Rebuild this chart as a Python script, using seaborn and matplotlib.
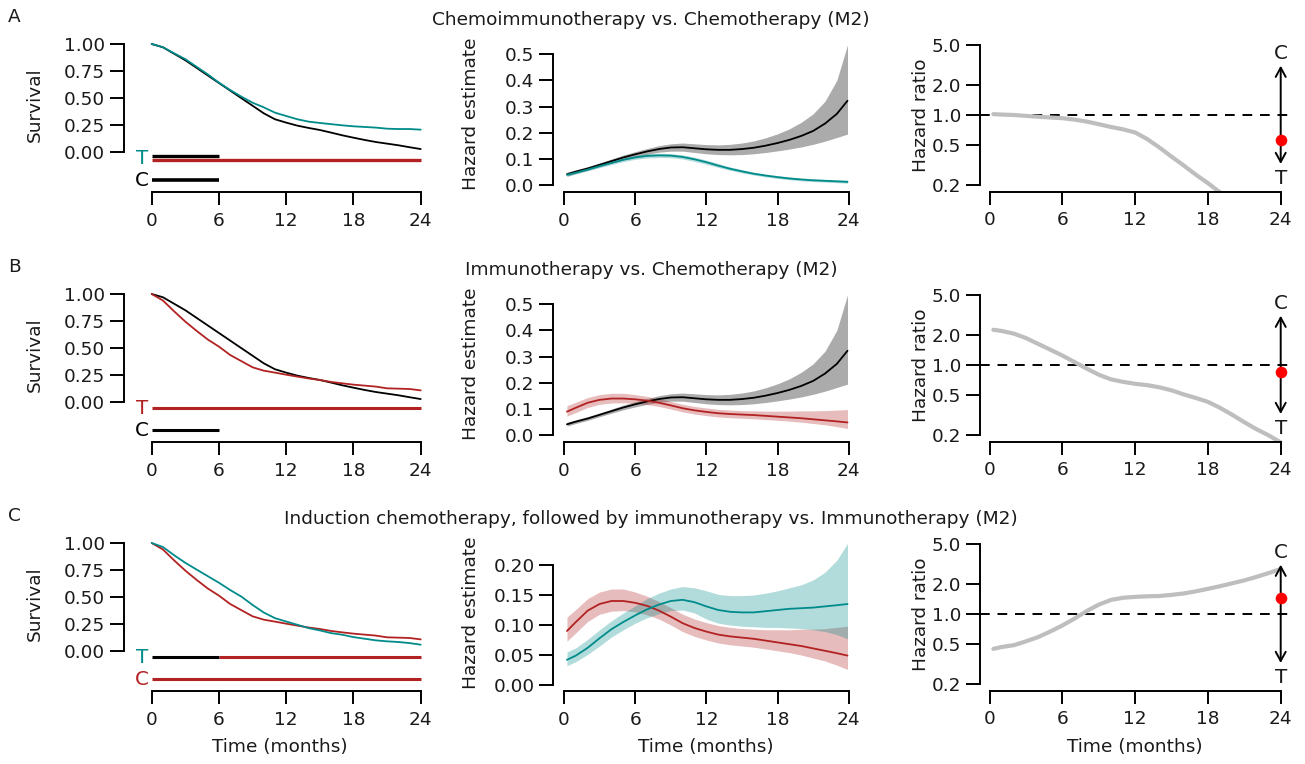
import numpy as np
import pandas as pd
import matplotlib
matplotlib.use("Agg")
import matplotlib.pyplot as plt
import seaborn as sns

# ---------------- data ----------------
months = [0, 1, 2, 3, 4, 5, 6, 7, 8, 9, 10, 11, 12, 13, 14, 15, 16, 17, 18, 19, 20, 21, 22, 23, 24]

# Kaplan-Meier survival
surv_chemo = [1.0, 0.97, 0.91, 0.85, 0.78, 0.71, 0.64, 0.57, 0.50, 0.43, 0.36, 0.305, 0.274, 0.246,
              0.225, 0.206, 0.182, 0.157, 0.135, 0.114, 0.095, 0.08, 0.065, 0.047, 0.03]
surv_chemoimmuno = [1.0, 0.97, 0.914, 0.86, 0.79, 0.72, 0.643, 0.575, 0.514, 0.458, 0.415, 0.366, 0.335,
                    0.305, 0.283, 0.271, 0.26, 0.249, 0.24, 0.234, 0.228, 0.218, 0.215, 0.215, 0.209]
surv_immuno = [1.0, 0.94, 0.84, 0.745, 0.66, 0.58, 0.514, 0.437, 0.38, 0.323, 0.292, 0.274, 0.255,
               0.237, 0.22, 0.206, 0.188, 0.175, 0.163, 0.154, 0.145, 0.129, 0.126, 0.123, 0.11]
surv_induction = [1.0, 0.963, 0.887, 0.817, 0.755, 0.694, 0.633, 0.566, 0.505, 0.428, 0.358, 0.306, 0.275,
                  0.245, 0.214, 0.193, 0.168, 0.153, 0.131, 0.116, 0.101, 0.092, 0.086, 0.076, 0.061]

# Hazard estimates
t_hz = [0.25, 1, 2, 3, 4, 5, 6, 7, 8, 9, 10, 11, 12, 13, 14, 15, 16, 17, 18, 19, 20, 21, 22, 23, 23.9]
hz_chemo = [0.042, 0.052, 0.064, 0.078, 0.092, 0.106, 0.118, 0.129, 0.138, 0.144, 0.145, 0.141, 0.137,
            0.135, 0.135, 0.138, 0.143, 0.151, 0.161, 0.173, 0.188, 0.207, 0.235, 0.272, 0.322]
hz_chemo_lo = [0.035, 0.045, 0.057, 0.071, 0.084, 0.097, 0.108, 0.118, 0.126, 0.130, 0.130, 0.125, 0.120,
               0.117, 0.116, 0.117, 0.120, 0.125, 0.131, 0.138, 0.146, 0.156, 0.168, 0.182, 0.195]
hz_chemo_hi = [0.050, 0.059, 0.071, 0.085, 0.100, 0.115, 0.128, 0.140, 0.151, 0.158, 0.161, 0.158, 0.155,
               0.154, 0.156, 0.161, 0.169, 0.181, 0.196, 0.215, 0.240, 0.272, 0.320, 0.400, 0.535]
hz_chemoimmuno = [0.040, 0.048, 0.060, 0.073, 0.085, 0.097, 0.106, 0.112, 0.114, 0.113, 0.108, 0.099, 0.088,
                  0.075, 0.063, 0.053, 0.044, 0.037, 0.031, 0.026, 0.022, 0.019, 0.017, 0.015, 0.013]
hz_chemoimmuno_lo = [0.034, 0.043, 0.055, 0.067, 0.079, 0.090, 0.099, 0.104, 0.106, 0.105, 0.100, 0.091, 0.080,
                     0.068, 0.057, 0.047, 0.039, 0.032, 0.026, 0.021, 0.017, 0.014, 0.012, 0.010, 0.008]
hz_chemoimmuno_hi = [0.046, 0.054, 0.066, 0.079, 0.091, 0.104, 0.113, 0.120, 0.122, 0.121, 0.116, 0.107, 0.096,
                     0.083, 0.070, 0.060, 0.050, 0.043, 0.037, 0.032, 0.028, 0.025, 0.023, 0.021, 0.020]
hz_immuno = [0.090, 0.105, 0.124, 0.135, 0.140, 0.140, 0.137, 0.132, 0.124, 0.114, 0.103, 0.095, 0.089,
             0.084, 0.081, 0.079, 0.077, 0.074, 0.071, 0.068, 0.065, 0.061, 0.057, 0.053, 0.049]
hz_immuno_lo = [0.073, 0.087, 0.106, 0.118, 0.123, 0.124, 0.122, 0.117, 0.110, 0.100, 0.089, 0.081, 0.075,
                0.070, 0.067, 0.065, 0.063, 0.060, 0.057, 0.054, 0.050, 0.045, 0.040, 0.033, 0.026]
hz_immuno_hi = [0.113, 0.126, 0.144, 0.155, 0.160, 0.160, 0.155, 0.148, 0.139, 0.129, 0.118, 0.110, 0.104,
                0.099, 0.096, 0.094, 0.093, 0.092, 0.092, 0.092, 0.093, 0.093, 0.094, 0.096, 0.098]
hz_induction = [0.042, 0.049, 0.062, 0.078, 0.093, 0.105, 0.116, 0.126, 0.134, 0.140, 0.142, 0.138, 0.131,
                0.125, 0.122, 0.121, 0.121, 0.123, 0.125, 0.127, 0.128, 0.129, 0.131, 0.133, 0.135]
hz_induction_lo = [0.032, 0.039, 0.051, 0.065, 0.080, 0.092, 0.103, 0.112, 0.119, 0.124, 0.125, 0.120, 0.110,
                   0.103, 0.100, 0.098, 0.097, 0.096, 0.096, 0.095, 0.094, 0.092, 0.089, 0.084, 0.077]
hz_induction_hi = [0.055, 0.062, 0.076, 0.092, 0.107, 0.120, 0.132, 0.144, 0.153, 0.160, 0.164, 0.162, 0.157,
                   0.151, 0.149, 0.149, 0.150, 0.153, 0.157, 0.162, 0.167, 0.175, 0.188, 0.208, 0.236]

# Hazard ratios
t_hr = [0.3, 1, 2, 3, 4, 5, 6, 7, 8, 9, 10, 11, 12, 13, 14, 15, 16, 17, 18, 19, 20, 21, 22, 23, 24]
hr_A = [1.02, 1.01, 1.0, 0.98, 0.96, 0.945, 0.93, 0.90, 0.86, 0.81, 0.76, 0.72, 0.67, 0.575, 0.475,
        0.385, 0.315, 0.255, 0.21, 0.17, 0.14, 0.115, 0.095, 0.08, 0.065]
hr_B = [2.24, 2.18, 2.05, 1.85, 1.62, 1.42, 1.24, 1.07, 0.92, 0.80, 0.72, 0.68, 0.65, 0.63, 0.60, 0.56,
        0.51, 0.47, 0.43, 0.375, 0.32, 0.27, 0.23, 0.20, 0.17]
hr_C = [0.45, 0.47, 0.49, 0.535, 0.59, 0.67, 0.77, 0.90, 1.07, 1.24, 1.38, 1.45, 1.48, 1.50, 1.51, 1.55,
        1.60, 1.68, 1.78, 1.89, 2.02, 2.16, 2.34, 2.55, 2.8]
hr_point = [0.565, 0.845, 1.43]
hr_arrow = [0.326, 3.09]

titles = ["Chemoimmunotherapy vs. Chemotherapy (M2)",
          "Immunotherapy vs. Chemotherapy (M2)",
          "Induction chemotherapy, followed by immunotherapy vs. Immunotherapy (M2)"]
letters = ["A", "B", "C"]
x_ticks = [0, 6, 12, 18, 24]
surv_ticks = [0.0, 0.25, 0.5, 0.75, 1.0]
hz_ticks_ab = [0.0, 0.1, 0.2, 0.3, 0.4, 0.5]
hz_ticks_c = [0.0, 0.05, 0.10, 0.15, 0.20]
hr_ticks = [0.2, 0.5, 1.0, 2.0, 5.0]

# ---------------- style ----------------
TEAL = "#008B8B"
RED = "#B22222"
BLACK = "#000000"
GRAY = "#BEBEBE"
TXT = "#1a1a1a"
FS = 13.3

W, H = 1305, 764
sns.set_theme(style="ticks")
plt.rcParams['font.family'] = ['DejaVu Sans']
plt.rcParams.update({
    "axes.linewidth": 1.4,
    "xtick.major.width": 1.4, "ytick.major.width": 1.4,
    "xtick.major.size": 9.5, "ytick.major.size": 10,
    "xtick.major.pad": 4.5, "ytick.major.pad": 3.5,
    "xtick.labelsize": FS, "ytick.labelsize": FS,
    "xtick.color": BLACK, "ytick.color": BLACK,
    "xtick.labelcolor": TXT, "ytick.labelcolor": TXT,
    "axes.edgecolor": BLACK,
})

fig = plt.figure(figsize=(W / 100, H / 100), dpi=100)
fig.patch.set_facecolor("white")


def vmap(v0, p0, v1, p1, q):
    return v0 + (q - p0) * (v1 - v0) / (p1 - p0)


def make_ax(left, right, top, bottom):
    return fig.add_axes([left / W, 1 - bottom / H, (right - left) / W, (bottom - top) / H])


def style(ax, xb, yb, yticks, ylabels):
    sns.despine(ax=ax)
    ax.spines['left'].set_bounds(*yb)
    ax.spines['bottom'].set_bounds(*xb)
    ax.set_xticks(x_ticks)
    ax.set_xticklabels([str(t) for t in x_ticks])
    ax.set_yticks(yticks)
    ax.set_yticklabels(ylabels)
    ax.minorticks_off()
    ax.set_xlabel("")
    ax.set_ylabel("")
    ax.patch.set_alpha(0)


def ylab(text, xpx, ypx):
    fig.text(xpx / W, 1 - ypx / H, text, rotation=90, ha='center', va='center', fontsize=FS, color=TXT)


surv_T = [surv_chemoimmuno, surv_immuno, surv_induction]
surv_Tc = [TEAL, RED, TEAL]
surv_C = [surv_chemo, surv_chemo, surv_immuno]
surv_Cc = [BLACK, BLACK, RED]

hz_T = [(hz_chemoimmuno, hz_chemoimmuno_lo, hz_chemoimmuno_hi), (hz_immuno, hz_immuno_lo, hz_immuno_hi),
        (hz_induction, hz_induction_lo, hz_induction_hi)]
hz_C = [(hz_chemo, hz_chemo_lo, hz_chemo_hi), (hz_chemo, hz_chemo_lo, hz_chemo_hi),
        (hz_immuno, hz_immuno_lo, hz_immuno_hi)]
hrs = [hr_A, hr_B, hr_C]

offsets = [0, 250, 499]

for r in range(3):
    off = offsets[r]
    # titles & letters
    fig.text(651 / W, 1 - (20 + off) / H, titles[r], ha='center', va='center', fontsize=FS, color=TXT)
    fig.text(14 / W, 1 - (17 + off) / H, letters[r], ha='center', va='center', fontsize=FS, color=TXT)

    # ---------- survival ----------
    L, R, T, B = 124, 431, 40 + off, 192.3 + off
    ax = make_ax(L, R, T, B)
    ax.set_xlim(vmap(0, 151.7, 24, 420.7, L), vmap(0, 151.7, 24, 420.7, R))
    ax.set_ylim(vmap(0, 152.3 + off, 1, 44 + off, B), vmap(0, 152.3 + off, 1, 44 + off, T))
    sns.lineplot(x=months, y=surv_C[r], ax=ax, color=surv_Cc[r], lw=1.3, estimator=None, sort=False)
    sns.lineplot(x=months, y=surv_T[r], ax=ax, color=surv_Tc[r], lw=1.3, estimator=None, sort=False)
    # treatment schedule bars
    if r == 0:
        ax.plot([0, 6], [-0.035, -0.035], color=BLACK, lw=2.4, solid_capstyle='butt')
        ax.plot([0, 24], [-0.072, -0.072], color=RED, lw=2.4, solid_capstyle='butt')
        ax.plot([0, 6], [-0.256, -0.256], color=BLACK, lw=2.6, solid_capstyle='butt')
    elif r == 1:
        ax.plot([0, 24], [-0.052, -0.052], color=RED, lw=2.2, solid_capstyle='butt')
        ax.plot([0, 6], [-0.256, -0.256], color=BLACK, lw=2.2, solid_capstyle='butt')
    else:
        ax.plot([0, 6], [-0.052, -0.052], color=BLACK, lw=2.2, solid_capstyle='butt')
        ax.plot([6, 24], [-0.052, -0.052], color=RED, lw=2.2, solid_capstyle='butt')
        ax.plot([0, 24], [-0.256, -0.256], color=RED, lw=2.2, solid_capstyle='butt')
    ax.text(-0.87, -0.055, "T", color=surv_Tc[r], ha='center', va='center', fontsize=FS + 1)
    ax.text(-0.87, -0.26, "C", color=surv_Cc[r], ha='center', va='center', fontsize=FS + 1)
    style(ax, (0, 24), (0, 1), surv_ticks, ["0.00", "0.25", "0.50", "0.75", "1.00"])
    ylab("Survival", 35, 105 + off)

    # ---------- hazard ----------
    L, R, T, B = 553.3, 860, 38 + off, 192.3 + off
    ax = make_ax(L, R, T, B)
    ax.set_xlim(vmap(0, 564, 24, 848.7, L), vmap(0, 564, 24, 848.7, R))
    if r < 2:
        ax.set_ylim(vmap(0, 185.3 + off, 0.5, 54 + off, B), vmap(0, 185.3 + off, 0.5, 54 + off, T))
        yt, yl, yb = hz_ticks_ab, ["0.0", "0.1", "0.2", "0.3", "0.4", "0.5"], (0, 0.5)
    else:
        ax.set_ylim(vmap(0, 685, 0.2, 565, B), vmap(0, 685, 0.2, 565, T))
        yt, yl, yb = hz_ticks_c, ["0.00", "0.05", "0.10", "0.15", "0.20"], (0, 0.2)
    cm, clo, chi = hz_C[r]
    tm, tlo, thi = hz_T[r]
    ax.fill_between(t_hz, clo, chi, color=surv_Cc[r], alpha=0.33 if surv_Cc[r] == BLACK else 0.3, lw=0)
    ax.fill_between(t_hz, tlo, thi, color=surv_Tc[r], alpha=0.3, lw=0)
    sns.lineplot(x=t_hz, y=cm, ax=ax, color=surv_Cc[r], lw=1.3, estimator=None, sort=False)
    sns.lineplot(x=t_hz, y=tm, ax=ax, color=surv_Tc[r], lw=1.3, estimator=None, sort=False)
    style(ax, (0, 24), yb, yt, yl)
    ylab("Hazard estimate", 471, 114 + off)

    # ---------- hazard ratio ----------
    L, R, T, B = 980, 1292, 40 + off, 192 + off
    ax = make_ax(L, R, T, B)
    ax.set_yscale('log')
    ax.set_xlim(vmap(0, 989.7, 24, 1280.7, L), vmap(0, 989.7, 24, 1280.7, R))
    lg5, lg02 = np.log10(5.0), np.log10(0.2)
    ax.set_ylim(10 ** vmap(lg02, 185.3 + off, lg5, 44.7 + off, B), 10 ** vmap(lg02, 185.3 + off, lg5, 44.7 + off, T))
    ax.axhline(1.0, color=BLACK, lw=1.4, ls=(0, (5, 4)))
    sns.lineplot(x=t_hr, y=hrs[r], ax=ax, color=GRAY, lw=3.0, estimator=None, sort=False)
    ax.annotate("", xy=(24, hr_arrow[1]), xytext=(24, hr_arrow[0]),
                arrowprops=dict(arrowstyle='<->,head_length=0.55,head_width=0.3', color=BLACK, lw=1.4,
                                shrinkA=0, shrinkB=0))
    ax.text(24, 4.1, "C", ha='center', va='center', fontsize=FS + 1, color=TXT)
    ax.text(24, 0.235, "T", ha='center', va='center', fontsize=FS + 1, color=TXT)
    ax.scatter([24], [hr_point[r]], s=70, color="#FF0000", zorder=5, lw=0)
    style(ax, (0, 24), (0.2, 5.0), hr_ticks, ["0.2", "0.5", "1.0", "2.0", "5.0"])
    ylab("Hazard ratio", 921, 115 + off)

for xc in [280, 706, 1135]:
    fig.text(xc / W, 1 - 747 / H, "Time (months)", ha='center', va='center', fontsize=FS, color=TXT)

fig.savefig("out.png", dpi=100, facecolor="white")
